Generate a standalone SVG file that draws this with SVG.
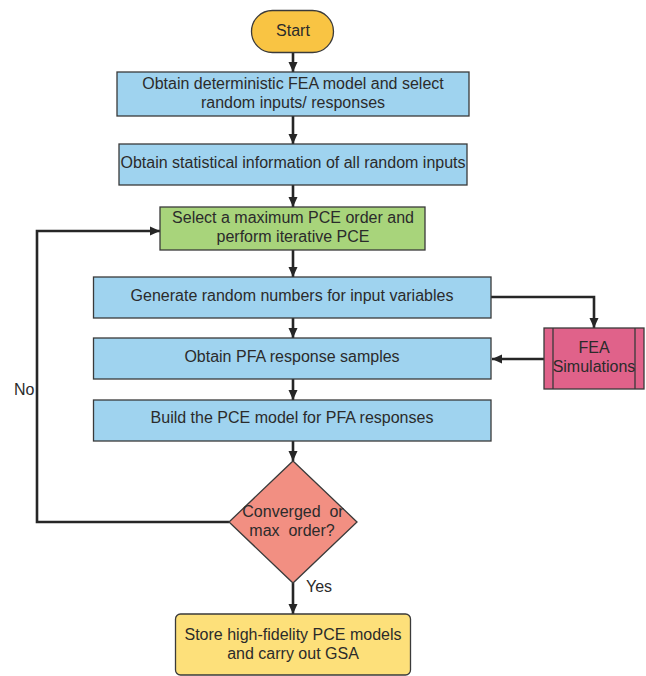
<svg xmlns="http://www.w3.org/2000/svg" width="646" height="676" viewBox="0 0 646 676">
<defs>
<style>
.box{stroke:#3a3a3a;stroke-width:1.3}
.blue{fill:#9fd3ef}
.t{font-family:"Liberation Sans",Arial,sans-serif;font-size:16px;fill:#2b2b2b;text-anchor:middle}
.tl{font-family:"Liberation Sans",Arial,sans-serif;font-size:16px;fill:#2b2b2b}
.c{fill:none;stroke:#262626;stroke-width:2.6}
</style>
<marker id="ah" viewBox="0 0 10 10" refX="10" refY="5" markerWidth="10" markerHeight="10" markerUnits="userSpaceOnUse" orient="auto">
<path d="M0,0.5 L10,5 L0,9.5 Z" fill="#262626"/>
</marker>
</defs>
<rect width="646" height="676" fill="#ffffff"/>
<g id="connectors">
<path class="c" d="M293,52 V72" marker-end="url(#ah)"/>
<path class="c" d="M293,116 V144" marker-end="url(#ah)"/>
<path class="c" d="M293,185 V207" marker-end="url(#ah)"/>
<path class="c" d="M293,250 V277" marker-end="url(#ah)"/>
<path class="c" d="M293,318 V338" marker-end="url(#ah)"/>
<path class="c" d="M293,379 V400" marker-end="url(#ah)"/>
<path class="c" d="M293,441 V461" marker-end="url(#ah)"/>
<path class="c" d="M293,583 V614" marker-end="url(#ah)"/>
<path class="c" d="M491,297 H594 V328" marker-end="url(#ah)"/>
<path class="c" d="M544,359 H492" marker-end="url(#ah)"/>
<path class="c" d="M229,522 H37 V231 H160" marker-end="url(#ah)"/>
<text class="tl" x="14" y="395">No</text>
<text class="tl" x="306" y="592">Yes</text>
</g>
<g id="start">
<rect class="box" x="251.5" y="10.5" width="82" height="42" rx="21" fill="#f9c443"/>
<text class="t" x="293" y="35.5">Start</text>
</g>
<g id="fea-model">
<rect class="box blue" x="117" y="72" width="352" height="44"/>
<text class="t" x="293" y="89">Obtain deterministic FEA model and select</text>
<text class="t" x="293" y="108">random inputs/ responses</text>
</g>
<g id="stat-info">
<rect class="box blue" x="119" y="144" width="348" height="41"/>
<text class="t" x="293" y="168">Obtain statistical information of all random inputs</text>
</g>
<g id="select-pce">
<rect class="box" x="160" y="207" width="265" height="43" fill="#a8d47b"/>
<text class="t" x="293" y="223">Select a maximum PCE order and</text>
<text class="t" x="293" y="242">perform iterative PCE</text>
</g>
<g id="generate">
<rect class="box blue" x="93.5" y="277" width="397.5" height="41"/>
<text class="t" x="292" y="301">Generate random numbers for input variables</text>
</g>
<g id="pfa-samples">
<rect class="box blue" x="93.5" y="338" width="397.5" height="41"/>
<text class="t" x="292" y="362">Obtain PFA response samples</text>
</g>
<g id="build-pce">
<rect class="box blue" x="93.5" y="400" width="397.5" height="41"/>
<text class="t" x="292" y="423">Build the PCE model for PFA responses</text>
</g>
<g id="fea-sim">
<rect class="box" x="544" y="328" width="100" height="61" fill="#e0628a"/>
<line class="box" x1="553" y1="328" x2="553" y2="389"/>
<line class="box" x1="635" y1="328" x2="635" y2="389"/>
<text class="t" x="594" y="353">FEA</text>
<text class="t" x="594" y="372">Simulations</text>
</g>
<g id="decision">
<polygon class="box" points="293,461 357,522 293,583 229,522" fill="#f28f82"/>
<text class="t" x="293" y="517" xml:space="preserve">Converged  or</text>
<text class="t" x="292" y="536" xml:space="preserve">max  order?</text>
</g>
<g id="store">
<rect class="box" x="175.5" y="614" width="235" height="61" rx="5" fill="#fde07a"/>
<text class="t" x="293" y="640">Store high-fidelity PCE models</text>
<text class="t" x="293" y="659">and carry out GSA</text>
</g>
</svg>
